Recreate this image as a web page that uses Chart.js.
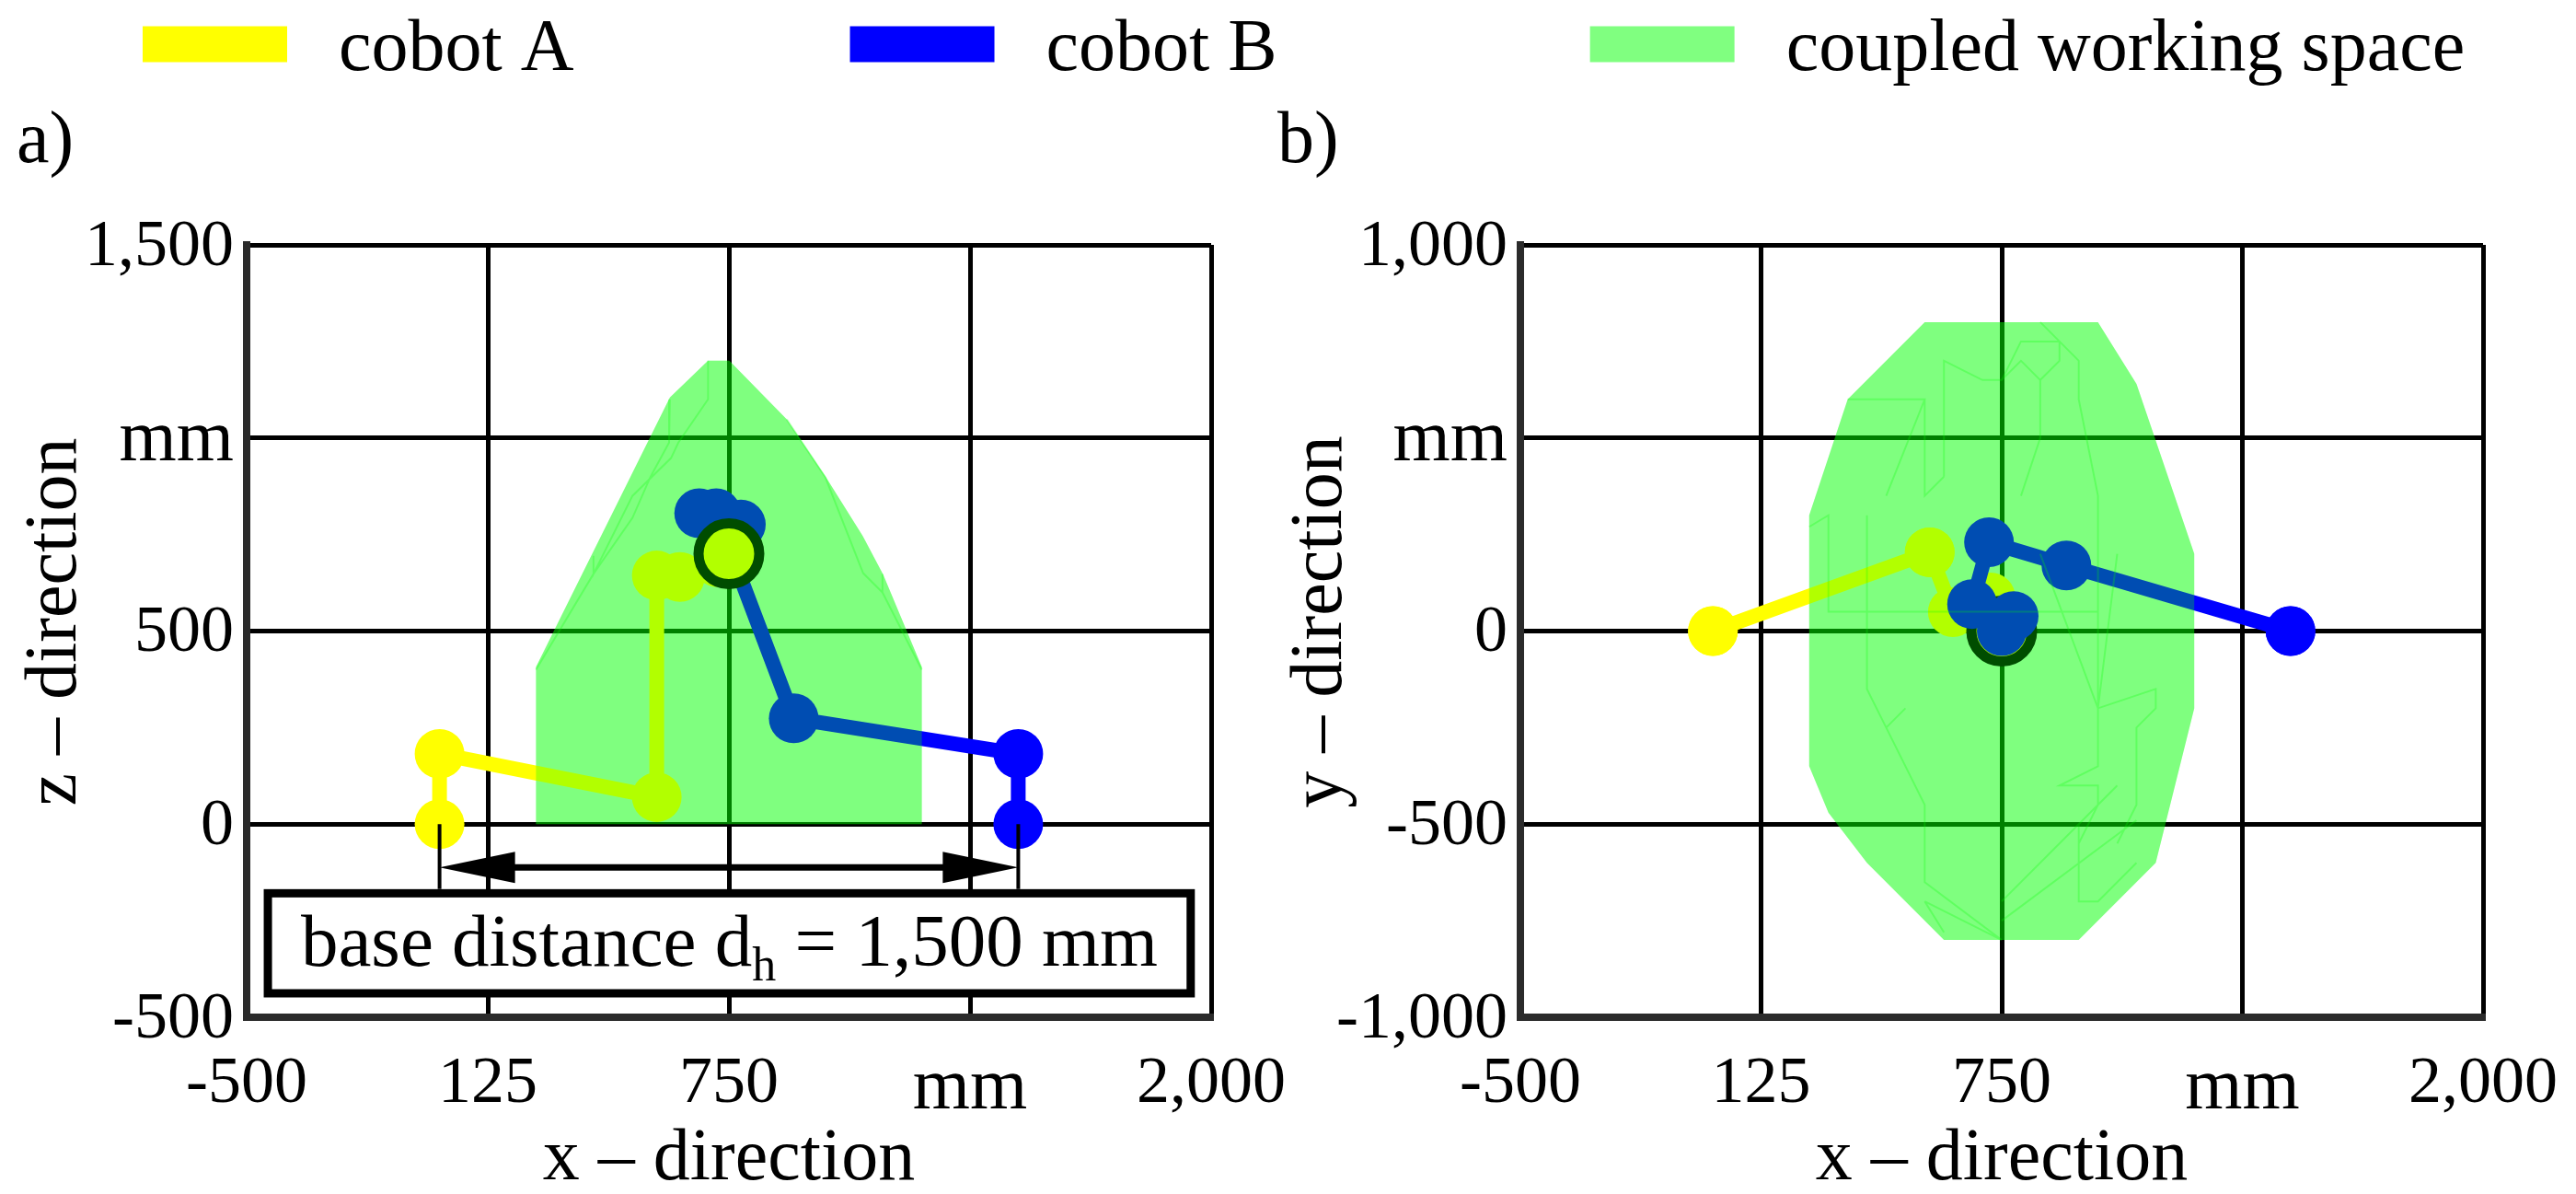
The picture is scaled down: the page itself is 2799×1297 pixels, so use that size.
<!DOCTYPE html>
<html><head><meta charset="utf-8">
<style>
html,body{margin:0;padding:0;background:#fff;width:2799px;height:1297px;overflow:hidden}
canvas{position:absolute;display:block}
</style>
<script src="https://cdn.jsdelivr.net/npm/chart.js@4/dist/chart.umd.js"></script>
</head><body>
<canvas id="lg" width="2799" height="400" style="left:0;top:-12px"></canvas>
<canvas id="ca" width="1400" height="1297" style="left:0;top:0"></canvas>
<canvas id="cb" width="1411" height="1297" style="left:1388px;top:0"></canvas>
<script>
// ---------- data ----------
const legendLabels = ['cobot A','cobot B','coupled working space'];
const legendColors = ['#ffff00','#0000ff','#80ff80'];
const xTickLabels = ['-500','125','750','mm','2,000'];
const zTickLabels = ['-500','0','500','mm','1,500'];
const yTickLabels = ['-1,000','-500','0','mm','1,000'];

const cobotA_x = [0,0,563,563,623,721,750];
const cobotA_z = [0,182,70,644,640,678,700];
const cobotA_y = [0,0,204,204,49,87,0];
const cobotB_x = [1500,1500,918,717,673,781,750];
const cobotB_z = [0,182,274,805,805,776,700];
const cobotB_y = [0,0,170,230,70,39,0];
const tcp_x = [750], tcp_z = [700], tcp_y = [0];

const spaceXZ_x = [250,250,597,696,751,900,1001,1097,1150,1250,1250,250];
const spaceXZ_z = [0,407,1105,1200,1200,1048,899,746,646,407,0,0];
const spaceXY_x = [250,350,550,1000,1100,1250,1250,1150,950,600,400,300,250,250];
const spaceXY_y = [300,600,800,800,640,200,-200,-600,-800,-800,-600,-470,-350,300];

const edgesXZ = [
 [[696,1200],[696,1100],[619,988],[600,948],[500,850],[399,648],[399,695]],
 [[597,1100],[595,988],[547,900],[500,793],[399,648],[250,400]],
 [[900,1048],[1000,898],[1098,650],[1148,600],[1148,648]],
 [[1148,600],[1250,400]]
];
const edgesXY = [
 [[600,400],[600,650],[600,700],[700,650],[750,650],[800,700],[850,650],[850,500],[800,350]],
 [[750,650],[800,750],[900,750],[900,700],[850,650]],
 [[850,800],[950,700],[950,600],[1000,350],[1000,-350],[900,-400],[1000,-400],[1000,-450],[950,-550]],
 [[550,600],[550,350],[600,400]],
 [[450,350],[550,600],[350,600]],
 [[250,270],[300,300],[300,50],[1000,50]],
 [[400,300],[400,-150],[450,-250],[500,-200]],
 [[450,-250],[550,-450],[550,-650],[750,-800]],
 [[850,200],[1000,-200],[1050,200]],
 [[1000,-200],[1150,-150],[1150,-200],[1100,-250],[1100,-450],[1050,-550]],
 [[750,-700],[950,-500],[1050,-400]],
 [[750,-750],[1100,-490]],
 [[950,-500],[950,-700],[1000,-700],[1100,-600]],
 [[550,-700],[650,-750],[750,-800]],
 [[550,-700],[600,-780]]
];

const dimX = [0,1500];       // base positions of the two cobots
const dimY = -112;           // height of the dimension arrow
const dimTickBottom = -168;
const noteBoxX = [-445,1947];
const noteBoxY = [-179,-438];
const noteText = ['base distance d','h',' = 1,500 mm'];
const panelTitles = ['a)','b)'];
const xTitle = 'x \u2013 direction';
const zTitle = '\u00a0z \u2013 direction';
const yTitle = '\u00a0y \u2013 direction';

// ---------- helpers ----------
const FAMILY = '"Liberation Serif", serif';
Chart.defaults.font.family = FAMILY;
Chart.defaults.color = '#000';
const pairs = (xs,ys)=>xs.map((x,i)=>({x,y:ys[i]}));
const polylines = list => {
  const out=[];
  list.forEach(pl=>{pl.forEach(p=>out.push({x:p[0],y:p[1]}));out.push({x:NaN,y:NaN});});
  return out;
};
const YELLOW='#ffff00', BLUE='#0000ff';
const robot=(label,data,color,order)=>({label,data,order,showLine:true,borderColor:color,backgroundColor:color,
  borderWidth:16,pointRadius:27,pointHoverRadius:27,pointBorderWidth:0,borderJoinStyle:'round',tension:0,fill:false});
const ring=(data,order)=>({label:'TCP',data,order,showLine:false,pointRadius:33,pointHoverRadius:33,
  pointBackgroundColor:YELLOW,pointBorderColor:'#000',pointBorderWidth:11});
const space=(data,alpha,order)=>({label:'coupled working space',data,order,showLine:true,borderWidth:0,pointRadius:0,
  borderColor:'rgba(0,0,0,0)',backgroundColor:'rgba(0,255,0,'+alpha+')',fill:'shape',tension:0});
const edges=(data,order)=>({label:'edges',data,order,showLine:true,borderWidth:2,pointRadius:0,
  borderColor:'rgba(0,255,0,0.25)',fill:false,spanGaps:false,tension:0});

function scales(yMin,yMax,yLabels,yTitleText,yWidth,yTitlePad){
  const tickFont = ctx => ({family:FAMILY,size:(ctx.tick&&ctx.tick.label==='mm')?80:72});
  const grid={color:'#000',lineWidth:5,drawTicks:false};
  const border={color:'#2b2b2b',width:8};
  return {
    x:{type:'linear',min:-500,max:2000,
      ticks:{stepSize:625,autoSkip:false,maxRotation:0,padding:30,font:tickFont,color:'#000',
        callback:(v)=>xTickLabels[Math.round((v+500)/625)]},
      grid,border,
      title:{display:true,text:xTitle,font:{family:FAMILY,size:80},color:'#000',padding:{top:0,bottom:-11}},
      afterFit:s=>{s.height=192;s.paddingLeft=0;s.paddingRight=0;}},
    y:{type:'linear',min:yMin,max:yMax,
      ticks:{stepSize:(yMax-yMin)/4,autoSkip:false,padding:14,labelOffset:3,font:tickFont,color:'#000',
        callback:(v)=>yLabels[Math.round((v-yMin)/((yMax-yMin)/4))]},
      grid,border,
      title:{display:true,text:yTitleText,font:{family:FAMILY,size:80},color:'#000',padding:{top:yTitlePad,bottom:0}},
      afterFit:s=>{s.width=yWidth;s.paddingTop=0;s.paddingBottom=0;}}
  };
}
function baseOpts(title,sc,pad){
  return {responsive:false,animation:false,devicePixelRatio:1,events:[],
    layout:{autoPadding:false,padding:pad},
    plugins:{legend:{display:false},tooltip:{enabled:false},
      title:{display:true,text:title,align:'start',color:'#000',font:{family:FAMILY,size:80,weight:'normal'},padding:{top:107,bottom:63}}},
    scales:sc};
}

// annotation of panel a
const baseNote={id:'baseNote',afterDatasetsDraw(chart){
  const c=chart.ctx,xs=chart.scales.x,ys=chart.scales.y;
  c.save();
  c.strokeStyle='#000';c.fillStyle='#000';
  const xa=xs.getPixelForValue(dimX[0]),xb=xs.getPixelForValue(dimX[1]),yd=ys.getPixelForValue(dimY);
  c.lineWidth=4;
  [xa,xb].forEach(x=>{c.beginPath();c.moveTo(x,ys.getPixelForValue(0));c.lineTo(x,ys.getPixelForValue(dimTickBottom));c.stroke();});
  c.lineWidth=7;c.beginPath();c.moveTo(xa+60,yd);c.lineTo(xb-60,yd);c.stroke();
  [[xa,1],[xb,-1]].forEach(([x,d])=>{c.beginPath();c.moveTo(x,yd);c.lineTo(x+d*82,yd-17);c.lineTo(x+d*82,yd+17);c.closePath();c.fill();});
  const l=xs.getPixelForValue(noteBoxX[0]),r=xs.getPixelForValue(noteBoxX[1]),t=ys.getPixelForValue(noteBoxY[0]),b=ys.getPixelForValue(noteBoxY[1]);
  c.fillStyle='#fff';c.fillRect(l,t,r-l,b-t);
  c.lineWidth=9;c.strokeRect(l,t,r-l,b-t);
  c.fillStyle='#000';c.textBaseline='alphabetic';c.textAlign='left';
  const big='81px '+FAMILY,small='52px '+FAMILY;
  c.font=big;const w0=c.measureText(noteText[0]).width,w2=c.measureText(noteText[2]).width;
  c.font=small;const w1=c.measureText(noteText[1]).width;
  let x=(l+r)/2-(w0+w1+w2)/2;const base=t+79;
  c.font=big;c.fillText(noteText[0],x,base);x+=w0;
  c.font=small;c.fillText(noteText[1],x,base+16);x+=w1;
  c.font=big;c.fillText(noteText[2],x,base);
  c.restore();
}};

// ---------- charts ----------
// legend text sits a little lower than its colour box in the reference
const lgCtx=document.getElementById('lg').getContext('2d');
const lgFill=lgCtx.fillText.bind(lgCtx);
lgCtx.fillText=(t,x,y,m)=>m===undefined?lgFill(t,x,y+7):lgFill(t,x,y+7,m);

new Chart(document.getElementById('lg'),{type:'scatter',
  data:{datasets:legendLabels.map((l,i)=>({label:l,data:[],backgroundColor:legendColors[i]}))},
  options:{responsive:false,animation:false,devicePixelRatio:1,events:[],
    layout:{padding:{left:135,top:0,right:0,bottom:0}},
    scales:{x:{display:false},y:{display:false}},
    plugins:{tooltip:{enabled:false},legend:{display:true,position:'top',align:'start',
      labels:{boxWidth:157,boxHeight:39,padding:20,color:'#000',font:{family:FAMILY,size:80},
        generateLabels:()=>{
          const tail=[14,16,0];
          return legendLabels.map((l,i)=>({text:'\u2009'+l+'\u00a0'.repeat(tail[i]),fillStyle:legendColors[i],strokeStyle:legendColors[i],lineWidth:0,hidden:false,datasetIndex:i}));
        }}}}}});

new Chart(document.getElementById('ca'),{type:'scatter',
  data:{datasets:[
    space(pairs(spaceXZ_x,spaceXZ_z),0.286,10),
    robot('cobot B',pairs(cobotB_x,cobotB_z),BLUE,7),
    robot('cobot A',pairs(cobotA_x,cobotA_z),YELLOW,6),
    ring(pairs(tcp_x,tcp_z),5),
    space(pairs(spaceXZ_x,spaceXZ_z),0.3,2),
    edges(polylines(edgesXZ),1)
  ]},
  options:baseOpts(panelTitles[0],scales(-500,1500,zTickLabels,zTitle,250,-5),{left:18,right:84,top:0,bottom:0}),
  plugins:[baseNote]});

new Chart(document.getElementById('cb'),{type:'scatter',
  data:{datasets:[
    space(pairs(spaceXY_x,spaceXY_y),0.286,10),
    robot('cobot A',pairs(cobotA_x,cobotA_y),YELLOW,7),
    ring(pairs(tcp_x,tcp_y),6),
    robot('cobot B',pairs(cobotB_x,cobotB_y),BLUE,5),
    space(pairs(spaceXY_x,spaceXY_y),0.3,2),
    edges(polylines(edgesXY),1)
  ]},
  options:baseOpts(panelTitles[1],scales(-1000,1000,yTickLabels,yTitle,264,0),{left:0,right:101,top:0,bottom:0})});
</script>
</body></html>
